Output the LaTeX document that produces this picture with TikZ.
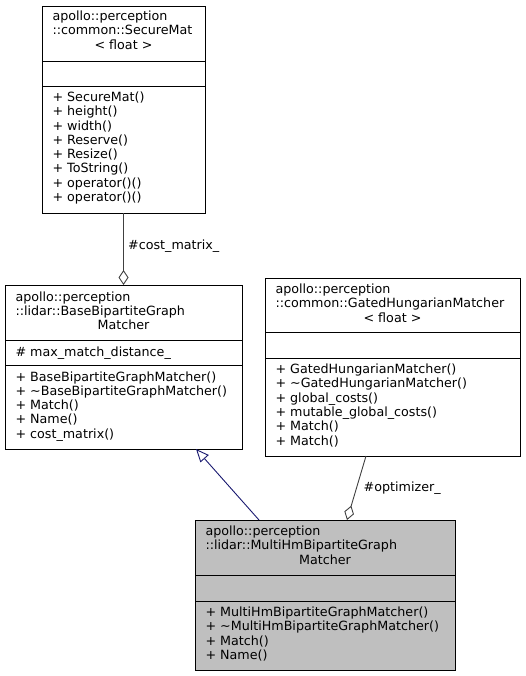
\documentclass[tikz,border=0pt]{standalone}
\usepackage{fontspec}
\setmainfont{DejaVu Sans}
\usetikzlibrary{arrows.meta}
\definecolor{edgegray}{HTML}{404040}
\definecolor{navyedge}{HTML}{191970}
\definecolor{hlfill}{HTML}{BFBFBF}
\newcommand{\umlfs}{\fontsize{12.7}{14.3}\selectfont}
\newcommand{\umllines}[4]{%
  \foreach \t [count=\i] in {#4} {
    \node[txt] (#1-\i) at (#2, {#3+(\i-1)*14.3}) {\t};
  }%
}
\tikzset{
  classbox/.style={draw=black, line width=0.8pt, inner sep=0pt, outer sep=0pt},
  txt/.style={anchor=base west, inner sep=0pt, outer sep=0pt, font=\umlfs},
  ctxt/.style={anchor=base, inner sep=0pt, outer sep=0pt, font=\umlfs},
  divider/.style={draw=black, line width=0.8pt},
  aggr/.style={draw=edgegray, line width=0.9pt, -{Diamond[open, length=15pt, width=10pt, fill=white]}},
  inherit/.style={draw=navyedge, line width=0.9pt, -{Triangle[open, length=13pt, width=11pt, fill=white]}},
  elabel/.style={anchor=base west, inner sep=0pt, font=\umlfs},
}
\begin{document}
\begin{tikzpicture}[x=1pt, y=-1pt]
\useasboundingbox (0,0) rectangle (525,676);

% ---- SecureMat
\node[classbox, minimum width=163, minimum height=207] (sm) at (123.5,109.5) {};
\draw[divider] (42,61) -- (205,61);
\draw[divider] (42,86) -- (205,86);
\node[txt] (sm-t1) at (52.5,20.7) {apollo::perception};
\node[txt] (sm-t2) at (52.5,35.0) {::common::SecureMat};
\node[ctxt] (sm-t3) at (123.5,49.3) {< float >};
\umllines{smm}{52.5}{101.5}{+ SecureMat(),+ height(),+ width(),+ Reserve(),+ Resize(),+ ToString(),+ operator()(),+ operator()()}

% ---- BaseBipartiteGraphMatcher
\node[classbox, minimum width=237, minimum height=164] (bb) at (123.5,367) {};
\draw[divider] (5,340) -- (242,340);
\draw[divider] (5,365) -- (242,365);
\node[txt] (bb-t1) at (15.5,301) {apollo::perception};
\node[txt] (bb-t2) at (15.5,315.3) {::lidar::BaseBipartiteGraph};
\node[ctxt] (bb-t3) at (123.5,329.6) {Matcher};
\node[txt] (bb-a1) at (15.5,356) {\# max\_match\_distance\_};
\umllines{bbm}{15.5}{381}{+ BaseBipartiteGraphMatcher(),+ \textasciitilde BaseBipartiteGraphMatcher(),+ Match(),+ Name(),+ cost\_matrix()}

% ---- GatedHungarianMatcher
\node[classbox, minimum width=255, minimum height=178] (gh) at (392.5,367) {};
\draw[divider] (265,332) -- (520,332);
\draw[divider] (265,358) -- (520,358);
\node[txt] (gh-t1) at (275.5,293.5) {apollo::perception};
\node[txt] (gh-t2) at (275.5,307.8) {::common::GatedHungarianMatcher};
\node[ctxt] (gh-t3) at (392.5,322.1) {< float >};
\umllines{ghm}{275.5}{373.5}{+ GatedHungarianMatcher(),+ \textasciitilde GatedHungarianMatcher(),+ global\_costs(),+ mutable\_global\_costs(),+ Match(),+ Match()}

% ---- MultiHmBipartiteGraphMatcher
\node[classbox, fill=hlfill, minimum width=260, minimum height=150] (mh) at (325,595) {};
\draw[divider] (195,575) -- (455,575);
\draw[divider] (195,601) -- (455,601);
\node[txt] (mh-t1) at (205.5,535.5) {apollo::perception};
\node[txt] (mh-t2) at (205.5,549.8) {::lidar::MultiHmBipartiteGraph};
\node[ctxt] (mh-t3) at (325,564.1) {Matcher};
\umllines{mhm}{205.5}{616.5}{+ MultiHmBipartiteGraphMatcher(),+ \textasciitilde MultiHmBipartiteGraphMatcher(),+ Match(),+ Name()}

% ---- connectors
\coordinate (smb) at (123.5,213);
\coordinate (bbt) at (123.5,285);
\draw[aggr] (smb) -- (bbt);
\node[elabel] (lbl-cm) at (128,249.5) {\#cost\_matrix\_};

\coordinate (mht1) at (259,520);
\coordinate (bbb) at (196,449);
\draw[inherit] (mht1) -- (bbb);

\coordinate (ghb) at (366,456);
\coordinate (mht2) at (347,520);
\draw[aggr] (ghb) -- (mht2);
\node[elabel] (lbl-op) at (363.5,491) {\#optimizer\_};
\end{tikzpicture}
\end{document}
